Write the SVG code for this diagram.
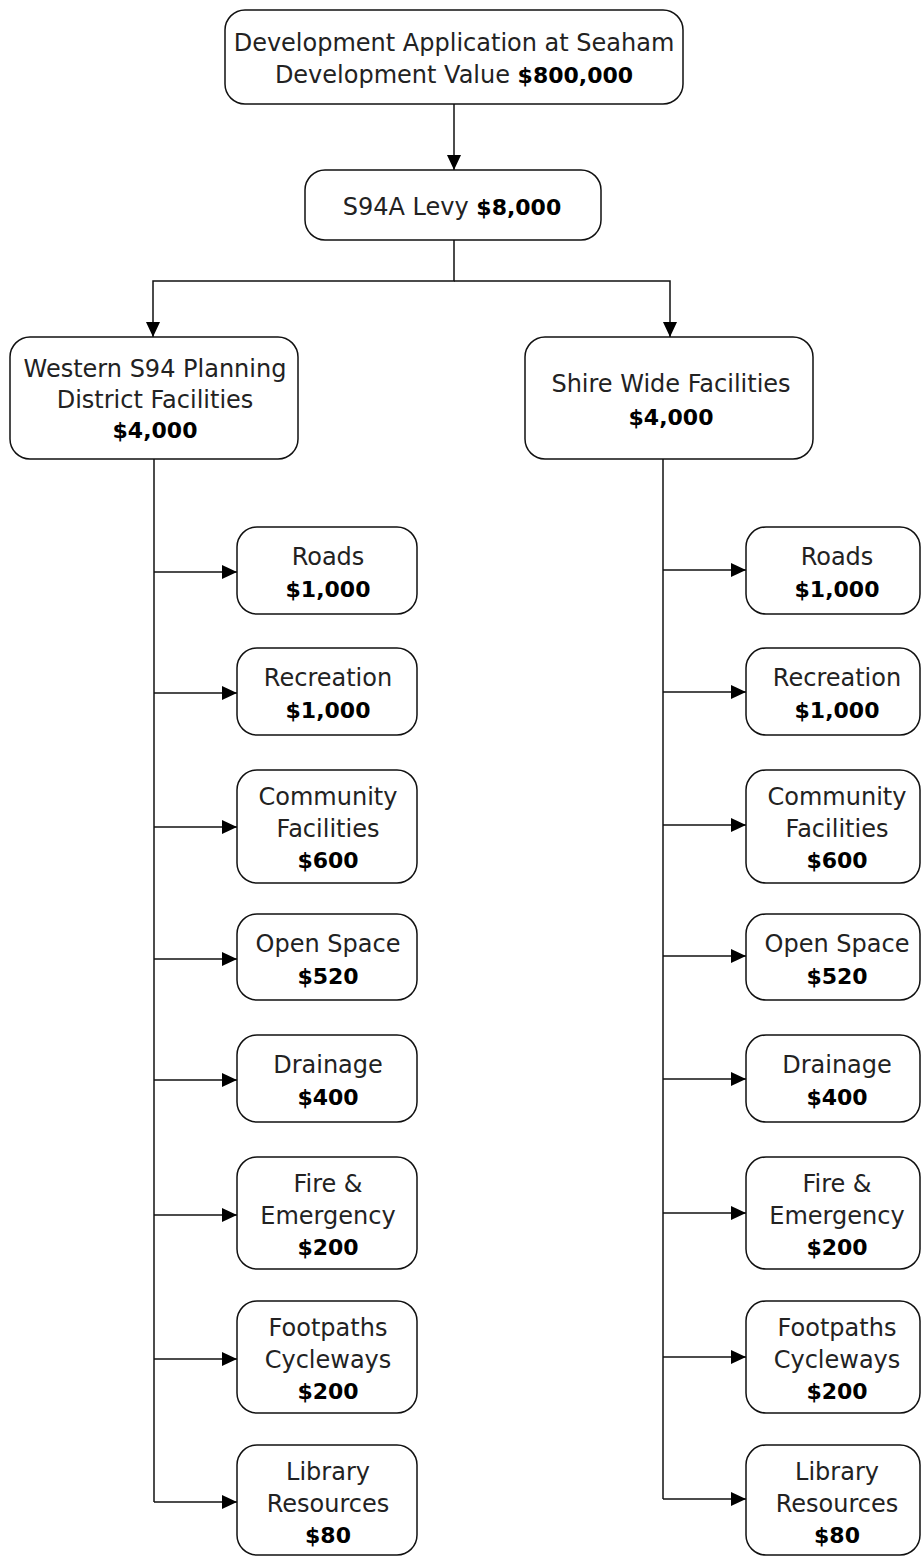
<svg xmlns="http://www.w3.org/2000/svg" width="921" height="1557" viewBox="0 0 921 1557">
<style>
.box{fill:#fff;stroke:#111;stroke-width:1.5}
.t{font-family:"DejaVu Sans",sans-serif;font-size:24px;fill:#222;text-anchor:middle}
.b{font-family:"DejaVu Sans",sans-serif;font-size:22px;font-weight:bold;fill:#000}
.c{fill:none;stroke:#111;stroke-width:1.5}
</style>
<defs>
<marker id="ar" markerUnits="userSpaceOnUse" markerWidth="15" markerHeight="14" refX="15" refY="7" orient="auto">
<path d="M0,0 L15,7 L0,14 z" fill="#000"/>
</marker>
</defs>
<rect width="921" height="1557" fill="#fff"/>
<g id="connectors">
<path class="c" d="M454,104 V170" marker-end="url(#ar)"/>
<path class="c" d="M454,240 V281 H153 V337" marker-end="url(#ar)"/>
<path class="c" d="M454,281 H670 V337" marker-end="url(#ar)"/>
<path class="c" d="M154,459 V1502"/>
<path class="c" d="M154,572 H237" marker-end="url(#ar)"/>
<path class="c" d="M154,693 H237" marker-end="url(#ar)"/>
<path class="c" d="M154,827 H237" marker-end="url(#ar)"/>
<path class="c" d="M154,959 H237" marker-end="url(#ar)"/>
<path class="c" d="M154,1080 H237" marker-end="url(#ar)"/>
<path class="c" d="M154,1215 H237" marker-end="url(#ar)"/>
<path class="c" d="M154,1359 H237" marker-end="url(#ar)"/>
<path class="c" d="M154,1502 H237" marker-end="url(#ar)"/>
<path class="c" d="M663,459 V1499"/>
<path class="c" d="M663,570 H746" marker-end="url(#ar)"/>
<path class="c" d="M663,692 H746" marker-end="url(#ar)"/>
<path class="c" d="M663,825 H746" marker-end="url(#ar)"/>
<path class="c" d="M663,956 H746" marker-end="url(#ar)"/>
<path class="c" d="M663,1079 H746" marker-end="url(#ar)"/>
<path class="c" d="M663,1213 H746" marker-end="url(#ar)"/>
<path class="c" d="M663,1357 H746" marker-end="url(#ar)"/>
<path class="c" d="M663,1499 H746" marker-end="url(#ar)"/>
</g>
<g id="top">
<rect class="box" x="225" y="10" width="458" height="94" rx="20"/>
<text class="t" x="454" y="51">Development Application at Seaham</text>
<text class="t" x="454" y="83">Development Value <tspan class="b">$800,000</tspan></text>
</g>
<g id="levy">
<rect class="box" x="305" y="170" width="296" height="70" rx="20"/>
<text class="t" x="452" y="215">S94A Levy <tspan class="b">$8,000</tspan></text>
</g>
<g id="western">
<rect class="box" x="10" y="337" width="288" height="122" rx="20"/>
<text class="t" x="155" y="377">Western S94 Planning</text>
<text class="t" x="155" y="408">District Facilities</text>
<text class="t b" x="155" y="438">$4,000</text>
</g>
<g id="shire">
<rect class="box" x="525" y="337" width="288" height="122" rx="20"/>
<text class="t" x="671" y="392">Shire Wide Facilities</text>
<text class="t b" x="671" y="425">$4,000</text>
</g>
<g id="w-roads"><rect class="box" x="237" y="527" width="180" height="87" rx="20"/>
<text class="t" x="328" y="565">Roads</text><text class="t b" x="328" y="597">$1,000</text></g>
<g id="w-recreation"><rect class="box" x="237" y="648" width="180" height="87" rx="20"/>
<text class="t" x="328" y="686">Recreation</text><text class="t b" x="328" y="718">$1,000</text></g>
<g id="w-community"><rect class="box" x="237" y="770" width="180" height="113" rx="20"/>
<text class="t" x="328" y="805">Community</text><text class="t" x="328" y="837">Facilities</text><text class="t b" x="328" y="868">$600</text></g>
<g id="w-openspace"><rect class="box" x="237" y="914" width="180" height="86" rx="20"/>
<text class="t" x="328" y="952">Open Space</text><text class="t b" x="328" y="984">$520</text></g>
<g id="w-drainage"><rect class="box" x="237" y="1035" width="180" height="87" rx="20"/>
<text class="t" x="328" y="1073">Drainage</text><text class="t b" x="328" y="1105">$400</text></g>
<g id="w-fire"><rect class="box" x="237" y="1157" width="180" height="112" rx="20"/>
<text class="t" x="328" y="1192">Fire &amp;</text><text class="t" x="328" y="1224">Emergency</text><text class="t b" x="328" y="1255">$200</text></g>
<g id="w-footpaths"><rect class="box" x="237" y="1301" width="180" height="112" rx="20"/>
<text class="t" x="328" y="1336">Footpaths</text><text class="t" x="328" y="1368">Cycleways</text><text class="t b" x="328" y="1399">$200</text></g>
<g id="w-library"><rect class="box" x="237" y="1445" width="180" height="110" rx="20"/>
<text class="t" x="328" y="1480">Library</text><text class="t" x="328" y="1512">Resources</text><text class="t b" x="328" y="1543">$80</text></g>
<g id="s-roads"><rect class="box" x="746" y="527" width="174" height="87" rx="20"/>
<text class="t" x="837" y="565">Roads</text><text class="t b" x="837" y="597">$1,000</text></g>
<g id="s-recreation"><rect class="box" x="746" y="648" width="174" height="87" rx="20"/>
<text class="t" x="837" y="686">Recreation</text><text class="t b" x="837" y="718">$1,000</text></g>
<g id="s-community"><rect class="box" x="746" y="770" width="174" height="113" rx="20"/>
<text class="t" x="837" y="805">Community</text><text class="t" x="837" y="837">Facilities</text><text class="t b" x="837" y="868">$600</text></g>
<g id="s-openspace"><rect class="box" x="746" y="914" width="174" height="86" rx="20"/>
<text class="t" x="837" y="952">Open Space</text><text class="t b" x="837" y="984">$520</text></g>
<g id="s-drainage"><rect class="box" x="746" y="1035" width="174" height="87" rx="20"/>
<text class="t" x="837" y="1073">Drainage</text><text class="t b" x="837" y="1105">$400</text></g>
<g id="s-fire"><rect class="box" x="746" y="1157" width="174" height="112" rx="20"/>
<text class="t" x="837" y="1192">Fire &amp;</text><text class="t" x="837" y="1224">Emergency</text><text class="t b" x="837" y="1255">$200</text></g>
<g id="s-footpaths"><rect class="box" x="746" y="1301" width="174" height="112" rx="20"/>
<text class="t" x="837" y="1336">Footpaths</text><text class="t" x="837" y="1368">Cycleways</text><text class="t b" x="837" y="1399">$200</text></g>
<g id="s-library"><rect class="box" x="746" y="1445" width="174" height="110" rx="20"/>
<text class="t" x="837" y="1480">Library</text><text class="t" x="837" y="1512">Resources</text><text class="t b" x="837" y="1543">$80</text></g>
</svg>
